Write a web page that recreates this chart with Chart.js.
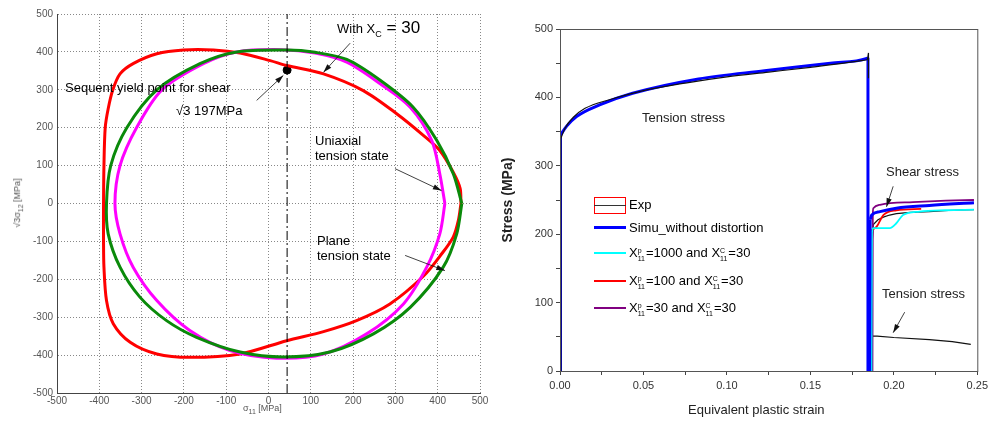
<!DOCTYPE html>
<html>
<head>
<meta charset="utf-8">
<script src="https://cdn.jsdelivr.net/npm/chart.js@4.4.0/dist/chart.umd.min.js"></script>
<style>
body{margin:0;background:#fff;width:992px;height:426px;overflow:hidden;position:relative;font-family:"Liberation Sans",Arial,sans-serif;}
.box{position:absolute;top:0;height:426px}
#left{left:0;width:495px}
#right{left:500px;width:492px}
.t{position:absolute;white-space:nowrap;font-size:13px;line-height:15px;color:#000}
.ss{display:inline-block;vertical-align:-4px;font-size:7px;line-height:8px;margin:0 1px 0 0}
.ss i{display:block;font-style:normal}
.ln{position:absolute;left:594px;width:32px}
</style>
</head>
<body>
<div class="box" id="left"><canvas id="c1" width="495" height="426"></canvas></div>
<div class="box" id="right"><canvas id="c2" width="492" height="426"></canvas></div>

<!-- left panel texts -->
<div class="t" style="left:337px;top:20px"><span style="font-size:13px">With X</span><sub style="font-size:9px">C</sub><span style="font-size:17px"> = 30</span></div>
<div class="t" style="left:65px;top:80px">Sequent yield point for shear</div>
<div class="t" style="left:176px;top:103px">&radic;3 197MPa</div>
<div class="t" style="left:315px;top:133px">Uniaxial</div>
<div class="t" style="left:315px;top:148px">tension state</div>
<div class="t" style="left:317px;top:233px">Plane</div>
<div class="t" style="left:317px;top:248px">tension state</div>
<div class="t" style="left:243px;top:401px;font-size:9px;color:#555">&sigma;<sub style="font-size:7px">11</sub> [MPa]</div>
<div class="t" style="left:19px;top:203px;font-size:9px;color:#555;transform:translate(-50%,-50%) rotate(-90deg)">&radic;3&sigma;<sub style="font-size:7px">12</sub> [MPa]</div>

<!-- right panel texts -->
<div class="t" style="left:642px;top:110px;color:#222">Tension stress</div>
<div class="t" style="left:886px;top:164px;color:#222">Shear stress</div>
<div class="t" style="left:882px;top:286px;color:#222">Tension stress</div>
<div class="t" style="left:688px;top:402px;color:#222">Equivalent plastic strain</div>
<div class="t" style="left:507px;top:200px;font-size:14px;font-weight:bold;color:#222;transform:translate(-50%,-50%) rotate(-90deg)">Stress (MPa)</div>

<!-- right legend -->
<div style="position:absolute;left:594px;top:197px;width:30px;height:15px;border:1px solid #f00"></div>
<div class="ln" style="top:205px;height:1px;background:#333"></div>
<div class="t" style="left:629px;top:197px">Exp</div>
<div class="ln" style="top:226px;height:3px;background:#0000ff"></div>
<div class="t" style="left:629px;top:220px">Simu_without distortion</div>
<div class="ln" style="top:252px;height:2px;background:#00ffff"></div>
<div class="t" style="left:629px;top:245px">X<span class="ss"><i>p</i><i>11</i></span>=1000 and X<span class="ss"><i>C</i><i>11</i></span>=30</div>
<div class="ln" style="top:280px;height:2px;background:#ff0000"></div>
<div class="t" style="left:629px;top:273px">X<span class="ss"><i>p</i><i>11</i></span>=100 and X<span class="ss"><i>C</i><i>11</i></span>=30</div>
<div class="ln" style="top:307px;height:2px;background:#800080"></div>
<div class="t" style="left:629px;top:300px">X<span class="ss"><i>p</i><i>11</i></span>=30 and X<span class="ss"><i>C</i><i>11</i></span>=30</div>

<script>
// ---- left panel : yield surfaces (sigma11 , sqrt3*sigma12) ----
const greenS11 = [457, 437, 398, 342, 264, 185, 110, 43, -75, -162, -264, -335, -373, -383, -379, -351, -304, -241, -170, -67, 35, 145, 248, 335, 413, 445, 457];
const greenS12 = [0, 78, 166, 254, 325, 380, 399, 405, 400, 369, 300, 200, 100, 0, -80, -168, -247, -309, -353, -392, -405, -392, -344, -274, -168, -80, 0];

const magentaS11 = [417, 405, 386, 335, 264, 185, 110, 30, -75, -154, -252, -312, -351, -363, -351, -320, -264, -186, -91, 19, 130, 232, 319, 374, 405, 417];
const magentaS12 = [0, 78, 166, 254, 316, 373, 397, 406, 400, 369, 300, 200, 100, 0, -80, -168, -256, -335, -388, -408, -397, -344, -265, -168, -80, 0];

const redS11 = [455, 453, 437, 405, 366, 303, 224, 130, 43, 4, -67, -130, -201, -264, -320, -351, -368, -379, -386, -389, -390, -390, -389, -383, -367, -327, -264, -186, -67, 43, 130, 208, 287, 366, 410, 437, 449, 455];
const redS12 = [0, 40, 82, 140, 180, 237, 298, 342, 364, 377, 397, 405, 405, 395, 369, 342, 300, 250, 200, 100, 0, -100, -168, -256, -317, -366, -397, -406, -397, -362, -338, -309, -265, -192, -132, -88, -44, 0];

const shearLineX = 44;
const shearPoint = {x: 44, y: 352};
const leftTicks = [-500, -400, -300, -200, -100, 0, 100, 200, 300, 400, 500];

// ---- right panel : stress vs equivalent plastic strain ----
const simuRiseEps = [0, 0.0003];
const simuRiseSig = [0, 345];
const simuTensionEps = [0.0003, 0.004, 0.0099, 0.0237, 0.0435, 0.083, 0.1225, 0.162, 0.1838, 0.1845];
const simuTensionSig = [345, 358, 372, 389, 406, 427, 439, 450, 457, 458];
const simuDropEps = [0.1845, 0.1845, 0.1855, 0.1858];
const simuDropSig = [458, 0, 0, 222];
const simuShearEps = [0.1858, 0.1868, 0.1917, 0.2015, 0.2213, 0.248];
const simuShearSig = [222, 228, 233, 238, 242, 246];

const expRiseEps = [0, 0.0005];
const expRiseSig = [0, 340];
const expTensionEps = [0.0005, 0.003, 0.008, 0.015, 0.03, 0.05, 0.075, 0.1, 0.125, 0.15, 0.17, 0.1842];
const expTensionSig = [340, 355, 371, 384, 397, 410, 421, 430, 437, 444, 450, 455];
const expPeakEps = [0.1842, 0.1848, 0.1848];
const expPeakSig = [455, 465, 428];

const expShearEps = [0.1868, 0.1871, 0.1877, 0.1905, 0.1937, 0.1975, 0.2015, 0.21, 0.2213, 0.235, 0.248];
const expShearSig = [0, 190, 214, 221, 225, 228, 230, 232, 233, 235, 236];

const expTension2Eps = [0.1875, 0.19, 0.2, 0.2213, 0.235, 0.2461];
const expTension2Sig = [51, 51, 49, 46, 43, 39];

const x1000Eps = [0.1866, 0.1869, 0.1877, 0.1976, 0.2015, 0.2055, 0.2154, 0.2312, 0.248];
const x1000Sig = [0, 203, 209, 209, 216, 228, 233, 235, 236];

const x100Eps = [0.1862, 0.1865, 0.1868, 0.1897, 0.1937, 0.2015, 0.2164];
const x100Sig = [0, 200, 206, 211, 228, 235, 237];

const x30Eps = [0.1872, 0.1874, 0.1877, 0.1917, 0.2115, 0.2312, 0.248];
const x30Sig = [0, 228, 238, 243, 247, 249, 250];

const fontFam = '"Liberation Sans", Arial, sans-serif';

function pts(xs, ys) {
	return xs.map((x, i) => ({x: x, y: ys[i]}));
}

// line dataset helper
function line(xs, ys, color, width, mode) {
	return {
		data: pts(xs, ys),
		showLine: true,
		borderColor: color,
		borderWidth: width,
		pointRadius: 0,
		cubicInterpolationMode: mode === 'mono' ? 'monotone' : 'default',
		tension: mode === 'smooth' ? 0.3 : 0
	};
}

// pointer arrows, given in data units
const arrowPlugin = {
	id: 'arrows',
	afterDatasetsDraw(chart, args, opts) {
		const ctx = chart.ctx;
		const xs = chart.scales.x, ys = chart.scales.y;
		ctx.save();
		ctx.strokeStyle = '#111';
		ctx.fillStyle = '#111';
		ctx.lineWidth = 0.8;
		(opts.list || []).forEach((a) => {
			const x1 = xs.getPixelForValue(a[0]), y1 = ys.getPixelForValue(a[1]);
			const x2 = xs.getPixelForValue(a[2]), y2 = ys.getPixelForValue(a[3]);
			const ang = Math.atan2(y2 - y1, x2 - x1);
			ctx.beginPath();
			ctx.moveTo(x1, y1);
			ctx.lineTo(x2, y2);
			ctx.stroke();
			ctx.beginPath();
			ctx.moveTo(x2, y2);
			ctx.lineTo(x2 - 9 * Math.cos(ang - 0.3), y2 - 9 * Math.sin(ang - 0.3));
			ctx.lineTo(x2 - 9 * Math.cos(ang + 0.3), y2 - 9 * Math.sin(ang + 0.3));
			ctx.closePath();
			ctx.fill();
		});
		if (opts.frame) {
			const ca = chart.chartArea;
			ctx.strokeStyle = '#555';
			ctx.lineWidth = 1;
			ctx.strokeRect(ca.left + 0.5, ca.top + 0.5, ca.right - ca.left, ca.bottom - ca.top);
		}
		ctx.restore();
	}
};

Chart.register(arrowPlugin);

// 왼쪽 그래프
const dashLine = line([shearLineX, shearLineX], [-500, 500], '#000', 1);
dashLine.borderDash = [9, 3, 2, 3];

new Chart(document.getElementById('c1'), {
	type: 'scatter',
	data: {
		datasets: [
			dashLine,
			line(greenS11, greenS12, '#0a8a0a', 3, 'smooth'),
			line(magentaS11, magentaS12, '#ff00ff', 3, 'smooth'),
			line(redS11, redS12, '#ff0000', 3, 'smooth'),
			{data: [shearPoint], pointRadius: 4, pointBackgroundColor: '#000', pointBorderColor: '#000'}
		]
	},
	options: {
		responsive: false,
		animation: false,
		devicePixelRatio: 1,
		layout: {padding: {top: 14, right: 15, left: 0, bottom: 0}},
		plugins: {
			legend: {display: false},
			tooltip: {enabled: false},
			arrows: {list: [[193, 423, 130, 346], [-28, 272, 35, 338], [299, 92, 409, 34], [323, -137, 417, -177]]}
		},
		scales: {
			x: {
				type: 'linear', min: -500, max: 500,
				afterBuildTicks: (s) => { s.ticks = leftTicks.map((v) => ({value: v})); },
				afterFit: (s) => { s.height = 33; },
				ticks: {color: '#555', font: {size: 10, family: fontFam}, padding: 2},
				grid: {color: '#888', drawTicks: false},
				border: {color: '#444', dash: [1, 2]}
			},
			y: {
				type: 'linear', min: -500, max: 500,
				afterBuildTicks: (s) => { s.ticks = leftTicks.map((v) => ({value: v})); },
				afterFit: (s) => { s.width = 57; },
				ticks: {color: '#555', font: {size: 10, family: fontFam}, padding: 4},
				grid: {color: '#888', drawTicks: false},
				border: {color: '#444', dash: [1, 2]}
			}
		}
	}
});

// 오른쪽 그래프
new Chart(document.getElementById('c2'), {
	type: 'scatter',
	data: {
		datasets: [
			line(expRiseEps, expRiseSig, '#111', 1.2),
			line(expTensionEps, expTensionSig, '#111', 1.2, 'mono'),
			line(expPeakEps, expPeakSig, '#111', 1.2),
			line(simuRiseEps, simuRiseSig, '#0000ff', 3),
			line(simuTensionEps, simuTensionSig, '#0000ff', 3, 'mono'),
			line(simuDropEps, simuDropSig, '#0000ff', 3),
			line(simuShearEps, simuShearSig, '#0000ff', 3, 'mono'),
			line(x1000Eps, x1000Sig, '#00ffff', 1.8, 'mono'),
			line(x100Eps, x100Sig, '#ff0000', 1.8, 'mono'),
			line(x30Eps, x30Sig, '#800080', 1.8, 'mono'),
			line(expShearEps, expShearSig, '#111', 1.2),
			line(expTension2Eps, expTension2Sig, '#111', 1.2)
		]
	},
	options: {
		responsive: false,
		animation: false,
		devicePixelRatio: 1,
		layout: {padding: {top: 29, right: 10, left: 0, bottom: 0}},
		plugins: {
			legend: {display: false},
			tooltip: {enabled: false},
			arrows: {frame: true, list: [[0.1996, 270, 0.1956, 240], [0.2065, 86, 0.1996, 56]]}
		},
		scales: {
			x: {
				type: 'linear', min: 0, max: 0.25,
				afterFit: (s) => { s.height = 55; },
				ticks: {
					stepSize: 0.025, color: '#333', font: {size: 11, family: fontFam}, padding: 4,
					callback: (v) => (Math.round(v * 1000) % 50 === 0 ? v.toFixed(2) : '')
				},
				grid: {drawOnChartArea: false, tickLength: 4, color: '#444'},
				border: {color: '#444'}
			},
			y: {
				type: 'linear', min: 0, max: 500,
				afterFit: (s) => { s.width = 60; },
				ticks: {
					stepSize: 50, color: '#333', font: {size: 11, family: fontFam}, padding: 3,
					callback: (v) => (v % 100 === 0 ? v : '')
				},
				grid: {drawOnChartArea: false, tickLength: 4, color: '#444'},
				border: {color: '#444'}
			}
		}
	}
});
</script>
</body>
</html>
